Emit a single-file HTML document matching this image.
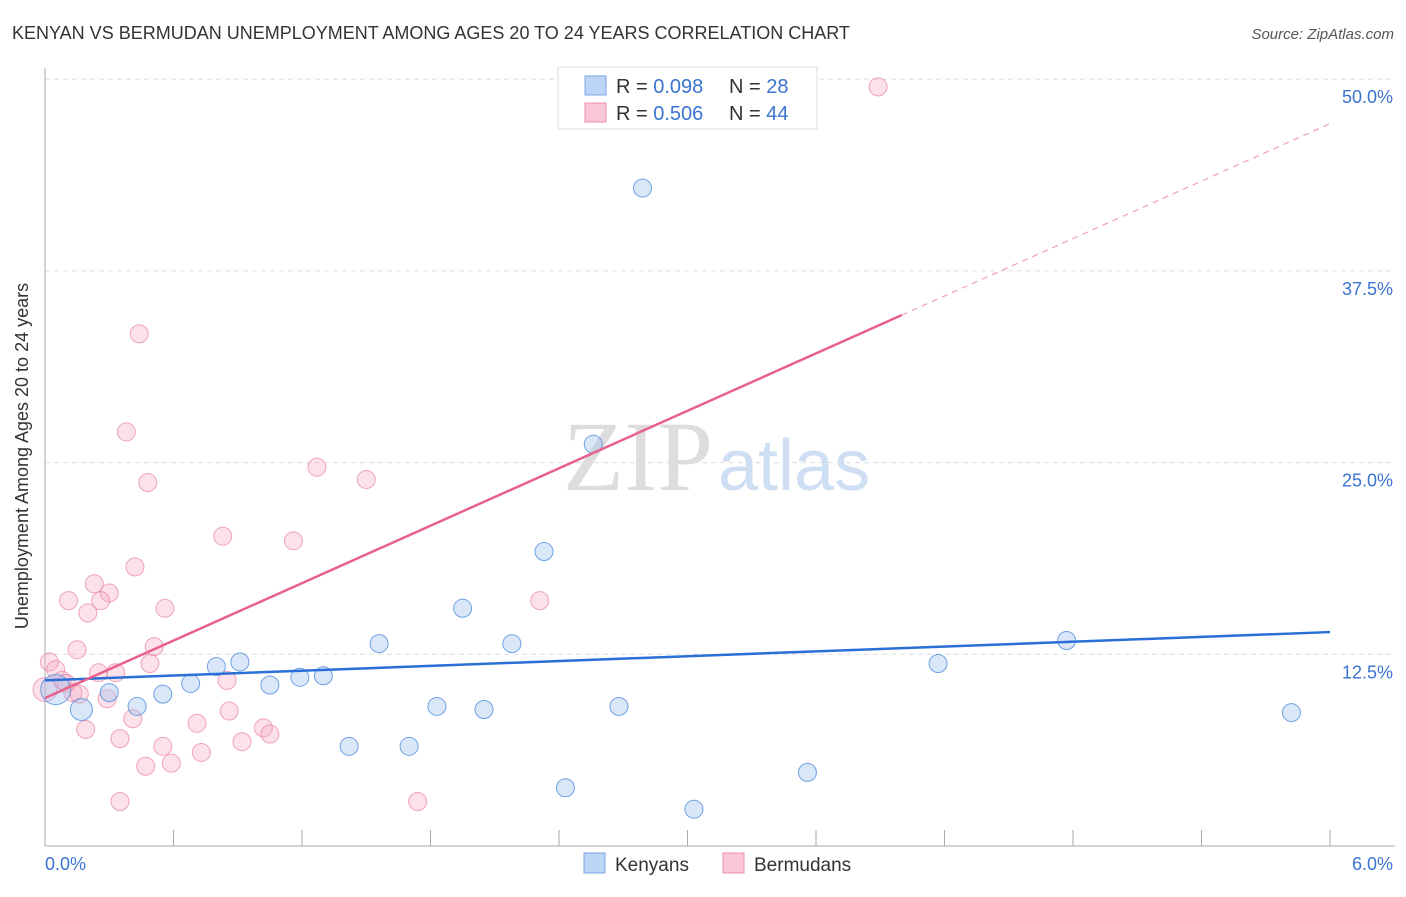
<!DOCTYPE html>
<html><head><meta charset="utf-8"><style>
body{margin:0;background:#fff;font-family:"Liberation Sans",sans-serif;}
svg text{font-family:"Liberation Sans",sans-serif;}
</style></head><body>
<svg id="chart" width="1406" height="892" viewBox="0 0 1406 892" xmlns="http://www.w3.org/2000/svg">
<text x="12" y="39" font-size="18" fill="#333">KENYAN VS BERMUDAN UNEMPLOYMENT AMONG AGES 20 TO 24 YEARS CORRELATION CHART</text>
<text x="1394" y="39" font-size="15" fill="#555" font-style="italic" text-anchor="end">Source: ZipAtlas.com</text>
<g id="grid"></g>
<text x="713" y="490" font-size="100" fill="#ddd" text-anchor="end" style="font-family:'Liberation Serif',serif">ZIP</text>
<text x="718" y="490" font-size="72" fill="#cfdff3">atlas</text>
<g id="axes"></g>
<g id="pinkPts"></g>
<g id="bluePts"></g>
<g id="lines"></g>
<text x="28" y="456" font-size="18" fill="#333" text-anchor="middle" transform="rotate(-90 28 456)">Unemployment Among Ages 20 to 24 years</text>
<g>
<rect x="558" y="67" width="259" height="62" fill="#fff" stroke="#ddd"/>
<rect x="585" y="76" width="21" height="19" fill="#bcd4f5" stroke="#7aa6e6"/>
<rect x="585" y="103" width="21" height="19" fill="#f9c6d5" stroke="#ee8fab"/>
<text x="616" y="93" font-size="20" fill="#333">R = <tspan fill="#3a73d0">0.098</tspan></text>
<text x="729" y="93" font-size="20" fill="#333">N = <tspan fill="#3a73d0">28</tspan></text>
<text x="616" y="120" font-size="20" fill="#333">R = <tspan fill="#3a73d0">0.506</tspan></text>
<text x="729" y="120" font-size="20" fill="#333">N = <tspan fill="#3a73d0">44</tspan></text>
</g>
<g>
<rect x="584" y="853" width="21" height="20" fill="#bcd4f5" stroke="#7aa6e6"/>
<text x="615" y="871" font-size="19" fill="#333">Kenyans</text>
<rect x="723" y="853" width="21" height="20" fill="#f9c6d5" stroke="#ee8fab"/>
<text x="754" y="871" font-size="19" fill="#333">Bermudans</text>
</g>
</svg>
<script>
const blueX=[0.05,0.17,0.30,0.43,0.55,0.68,0.80,0.91,1.05,1.19,1.30,1.42,1.56,1.70,1.83,1.95,2.05,2.18,2.33,2.43,2.56,2.68,2.79,3.03,3.56,4.17,4.77,5.82];
const blueY=[10.2,8.9,10.0,9.1,9.9,10.6,11.7,12.0,10.5,11.0,11.1,6.5,13.2,6.5,9.1,15.5,8.9,13.2,19.2,3.8,26.2,9.1,42.9,2.4,4.8,11.9,13.4,8.7];
const pinkX=[3.89,0.44,0.38,0.48,1.27,1.50,0.83,1.16,0.42,0.23,0.11,0.30,0.26,0.20,0.56,2.31,0.15,0.51,0.49,0.25,0.33,0.02,0.05,0.08,0.10,0.13,0.16,0.29,0.85,0.19,0.41,0.71,0.86,0.35,0.55,0.92,1.02,1.05,0.73,0.59,0.47,0.35,1.74,0.0];
const pinkY=[49.5,33.4,27.0,23.7,24.7,23.9,20.2,19.9,18.2,17.1,16.0,16.5,16.0,15.2,15.5,16.0,12.8,13.0,11.9,11.3,11.3,12.0,11.5,10.8,10.6,10.0,9.9,9.6,10.8,7.6,8.3,8.0,8.8,7.0,6.5,6.8,7.7,7.3,6.1,5.4,5.2,2.9,2.9,10.2];
const blueTrend=[10.8,13.95];
const pinkTrend=[9.65,47.1];
const pinkSolidEnd=4.0;
const yTicks=[12.5,25.0,37.5,50.0];
const xTickVals=[0,0.6,1.2,1.8,2.4,3.0,3.6,4.2,4.8,5.4,6.0];
const NS="http://www.w3.org/2000/svg";
const sx=v=>45+v*1285/6;
const sy=v=>846-v*15.336;
function mk(tag,attrs,parent){const e=document.createElementNS(NS,tag);for(const k in attrs)e.setAttribute(k,attrs[k]);parent.appendChild(e);return e;}
const grid=document.getElementById('grid'),axes=document.getElementById('axes');
yTicks.forEach(t=>{
  const l=mk('line',{x1:45,x2:1395,y1:sy(t),y2:sy(t),stroke:'#ddd','stroke-dasharray':'5,4'},grid);
  
  
  const tx=mk('text',{x:1393,y:sy(t)+24,'font-size':18,fill:'#3a73d0','text-anchor':'end'},grid);
  tx.textContent=t.toFixed(1)+'%';
  
  
});
const la=mk('line',{x1:45,x2:45,y1:68,y2:846,stroke:'#aaa'},axes);


const ba=mk('line',{x1:45,x2:1395,y1:846,y2:846,stroke:'#aaa'},axes);


xTickVals.forEach(t=>{
  const tk=mk('line',{x1:sx(t),x2:sx(t),y1:830,y2:846,stroke:'#aaa'},axes);
  
  
});
const x0=mk('text',{x:45,y:870,'font-size':18,fill:'#3a73d0'},axes);x0.textContent='0.0%';


const x1=mk('text',{x:1393,y:870,'font-size':18,fill:'#3a73d0','text-anchor':'end'},axes);x1.textContent='6.0%';


const pp=document.getElementById('pinkPts');
pinkX.forEach((x,i)=>{
  const c=mk('circle',{cx:sx(x),cy:sy(pinkY[i]),r:(i===43?12:9),fill:'rgba(246,170,195,0.35)',stroke:'rgba(232,130,160,0.7)','stroke-width':1},pp);
  
  
});
const bp=document.getElementById('bluePts');
blueX.forEach((x,i)=>{
  const c=mk('circle',{cx:sx(x),cy:sy(blueY[i]),r:(i===0?15:(i===1?11:9)),fill:'rgba(160,195,240,0.4)',stroke:'rgba(80,140,220,0.8)','stroke-width':1},bp);
  
  
});
const lg=document.getElementById('lines');
const bl=mk('line',{x1:sx(0),y1:sy(blueTrend[0]),x2:sx(6),y2:sy(blueTrend[1]),stroke:'#2a6fd6','stroke-width':2.5},lg);


const pAt=x=>pinkTrend[0]+(pinkTrend[1]-pinkTrend[0])*x/6;
const pl=mk('line',{x1:sx(0),y1:sy(pAt(0)),x2:sx(pinkSolidEnd),y2:sy(pAt(pinkSolidEnd)),stroke:'#e8618c','stroke-width':2.5},lg);


const pd=mk('line',{x1:sx(pinkSolidEnd),y1:sy(pAt(pinkSolidEnd)),x2:sx(6),y2:sy(pAt(6)),stroke:'#eea0b8','stroke-width':1.2,'stroke-dasharray':'6,5'},lg);


</script>
</body></html>
